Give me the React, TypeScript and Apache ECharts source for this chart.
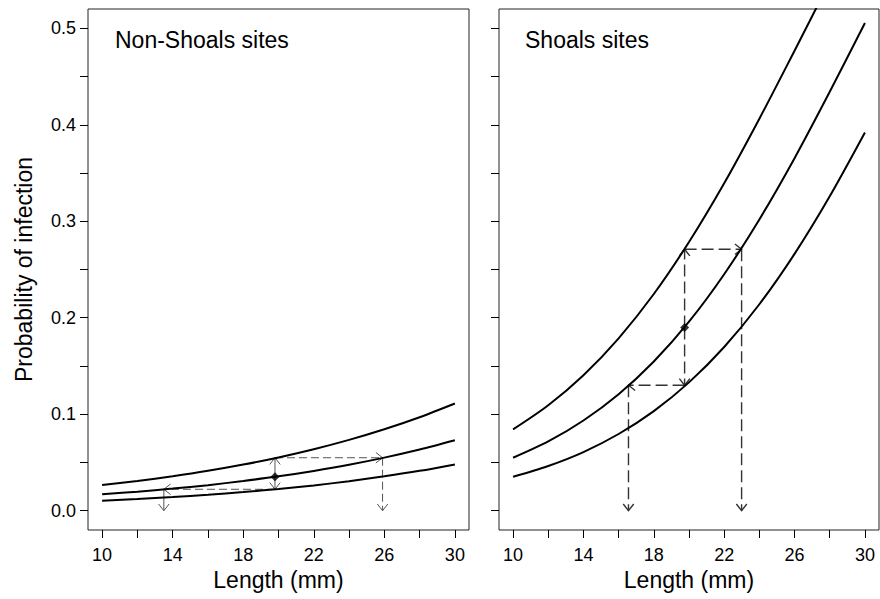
import React, { useEffect, useRef } from "react";
import * as echarts from "echarts";

// ---- Data ----
const lengths = [10, 12, 14, 16, 18, 20, 22, 24, 26, 28, 30];

// Non-Shoals sites
const nonShoalsUpper = [0.0266, 0.0308, 0.0357, 0.0413, 0.0478, 0.0552, 0.0637, 0.0734, 0.0844, 0.0969, 0.1111];
const nonShoalsMid = [0.017, 0.0197, 0.0229, 0.0265, 0.0308, 0.0356, 0.0412, 0.0476, 0.055, 0.0634, 0.073];
const nonShoalsLower = [0.0104, 0.0121, 0.0142, 0.0166, 0.0193, 0.0225, 0.0262, 0.0306, 0.0356, 0.0413, 0.048];

// Shoals sites
const shoalsUpper = [0.0843, 0.1093, 0.1404, 0.1787, 0.2246, 0.2785, 0.3394, 0.4063, 0.4768, 0.5483, 0.618];
const shoalsMid = [0.0549, 0.0718, 0.0935, 0.1207, 0.1546, 0.1959, 0.2451, 0.3019, 0.3654, 0.4342, 0.5055];
const shoalsLower = [0.0352, 0.0464, 0.0608, 0.0795, 0.1032, 0.133, 0.1697, 0.214, 0.2662, 0.3259, 0.392];

// Estimated points (length, probability)
const nonShoalsPoint = [19.8, 0.0351];
const shoalsPoint = [19.75, 0.19];

// Arrows: [x1, y1, x2, y2, dashed(1) / solid(0)]
const nonShoalsArrows = [
  [19.8, 0.0351, 19.8, 0.0549, 0],
  [19.8, 0.0351, 19.8, 0.0222, 0],
  [19.8, 0.0549, 25.9, 0.0549, 1],
  [25.9, 0.0549, 25.9, 0.0, 1],
  [19.8, 0.0222, 13.5, 0.0222, 1],
  [13.5, 0.0222, 13.5, 0.0, 0],
];
const shoalsArrows = [
  [19.75, 0.19, 19.75, 0.271, 1],
  [19.75, 0.19, 19.75, 0.13, 1],
  [19.75, 0.271, 22.99, 0.271, 1],
  [22.99, 0.271, 22.99, 0.0, 1],
  [19.75, 0.13, 16.56, 0.13, 1],
  [16.56, 0.13, 16.56, 0.0, 1],
];

// Axis ticks / labels
const xTickValues = [10, 12, 14, 16, 18, 20, 22, 24, 26, 28, 30];
const xLabelValues = [10, 14, 18, 22, 26, 30];
const yTickValues = [0, 0.05, 0.1, 0.15, 0.2, 0.25, 0.3, 0.35, 0.4, 0.45, 0.5];
const yLabelValues = [0, 0.1, 0.2, 0.3, 0.4, 0.5];

const panelTitles = ["Non-Shoals sites", "Shoals sites"];
const xTitle = "Length (mm)";
const yTitle = "Probability of infection";

const FONT = "'Liberation Sans', Arial, Helvetica, sans-serif";

function pairs(xs: number[], ys: number[]) {
  return xs.map((x, i) => [x, ys[i]]);
}

function arrowRenderer(color: string, width: number, dash: number[]) {
  return (params: any, api: any) => {
    const x1 = api.value(0), y1 = api.value(1), x2 = api.value(2), y2 = api.value(3);
    const dashed = api.value(4) === 1;
    const p1 = api.coord([x1, y1]);
    const p2 = api.coord([x2, y2]);
    const dx = p2[0] - p1[0], dy = p2[1] - p1[1];
    const len = Math.sqrt(dx * dx + dy * dy) || 1;
    const bx = -dx / len, by = -dy / len;
    const L = 8.5, th = (38 * Math.PI) / 180;
    const c = Math.cos(th), s = Math.sin(th);
    const a = [p2[0] + L * (bx * c - by * s), p2[1] + L * (bx * s + by * c)];
    const b = [p2[0] + L * (bx * c + by * s), p2[1] + L * (-bx * s + by * c)];
    return {
      type: "group",
      children: [
        {
          type: "line",
          shape: { x1: p1[0], y1: p1[1], x2: p2[0], y2: p2[1] },
          style: { stroke: color, lineWidth: width, lineDash: dashed ? dash : null, fill: null },
        },
        {
          type: "polyline",
          shape: { points: [a, p2, b] },
          style: { stroke: color, lineWidth: width, fill: null },
        },
      ],
    };
  };
}

export default function App() {
  const ref = useRef<HTMLDivElement>(null);

  useEffect(() => {
    if (!ref.current) return;
    const chart = echarts.init(ref.current, undefined, { renderer: "svg" });

    const xAxisBase = (gridIndex: number) => ({
      type: "value",
      gridIndex,
      min: 9.2,
      max: 30.8,
      splitLine: { show: false },
      axisLine: { show: false, onZero: false },
      axisTick: {
        show: true,
        customValues: xTickValues,
        length: 8,
        lineStyle: { color: "#000", width: 1 },
      },
      axisLabel: {
        customValues: xLabelValues,
        margin: 16,
        fontSize: 18,
        color: "#000",
        fontFamily: FONT,
      },
      name: xTitle,
      nameLocation: "middle",
      nameGap: 37,
      nameTextStyle: { fontSize: 23, color: "#000", fontFamily: FONT },
    });

    const yAxisBase = (gridIndex: number, showLabels: boolean) => ({
      type: "value",
      gridIndex,
      min: -0.02,
      max: 0.52,
      splitLine: { show: false },
      axisLine: { show: false, onZero: false },
      axisTick: {
        show: true,
        customValues: yTickValues,
        length: 8,
        lineStyle: { color: "#000", width: 1 },
      },
      axisLabel: {
        show: showLabels,
        customValues: yLabelValues,
        margin: 12,
        fontSize: 18,
        color: "#000",
        fontFamily: FONT,
        formatter: (v: number) => v.toFixed(1),
      },
      ...(showLabels
        ? {
            name: yTitle,
            nameLocation: "middle",
            nameGap: 53,
            nameTextStyle: { fontSize: 23, color: "#000", fontFamily: FONT },
          }
        : {}),
    });

    const curve = (data: number[], idx: number) => ({
      type: "line",
      xAxisIndex: idx,
      yAxisIndex: idx,
      data: pairs(lengths, data),
      showSymbol: false,
      smooth: 0.3,
      lineStyle: { color: "#000", width: 2 },
      silent: true,
    });

    chart.setOption({
      animation: false,
      backgroundColor: "#fff",
      grid: [
        { left: 88, top: 9, width: 381, height: 521, show: true, borderColor: "#222", borderWidth: 1, backgroundColor: "transparent" },
        { left: 499, top: 9, width: 380, height: 521, show: true, borderColor: "#222", borderWidth: 1, backgroundColor: "transparent" },
      ],
      xAxis: [xAxisBase(0), xAxisBase(1)],
      yAxis: [yAxisBase(0, true), yAxisBase(1, false)],
      graphic: [
        {
          type: "text",
          x: 115,
          y: 40,
          style: { text: panelTitles[0], fontSize: 23, fill: "#000", font: `23px ${FONT}`, verticalAlign: "middle", align: "left" },
        },
        {
          type: "text",
          x: 525,
          y: 40,
          style: { text: panelTitles[1], fontSize: 23, fill: "#000", font: `23px ${FONT}`, verticalAlign: "middle", align: "left" },
        },
      ],
      series: [
        curve(nonShoalsUpper, 0),
        curve(nonShoalsMid, 0),
        curve(nonShoalsLower, 0),
        curve(shoalsUpper, 1),
        curve(shoalsMid, 1),
        curve(shoalsLower, 1),
        {
          type: "custom",
          xAxisIndex: 0,
          yAxisIndex: 0,
          data: nonShoalsArrows,
          encode: { x: [0, 2], y: [1, 3] },
          renderItem: arrowRenderer("#555", 1, [8, 4]),
          silent: true,
          z: 3,
        },
        {
          type: "custom",
          xAxisIndex: 1,
          yAxisIndex: 1,
          data: shoalsArrows,
          encode: { x: [0, 2], y: [1, 3] },
          renderItem: arrowRenderer("#333", 1.4, [12, 5]),
          silent: true,
          z: 3,
        },
        {
          type: "scatter",
          xAxisIndex: 0,
          yAxisIndex: 0,
          data: [nonShoalsPoint],
          symbol: "diamond",
          symbolSize: 9,
          itemStyle: { color: "#000" },
          silent: true,
          z: 4,
        },
        {
          type: "scatter",
          xAxisIndex: 1,
          yAxisIndex: 1,
          data: [shoalsPoint],
          symbol: "diamond",
          symbolSize: 9,
          itemStyle: { color: "#000" },
          silent: true,
          z: 4,
        },
      ],
    });

    return () => chart.dispose();
  }, []);

  return <div ref={ref} style={{ width: 880, height: 599, position: "absolute", left: 0, top: 0 }} />;
}
